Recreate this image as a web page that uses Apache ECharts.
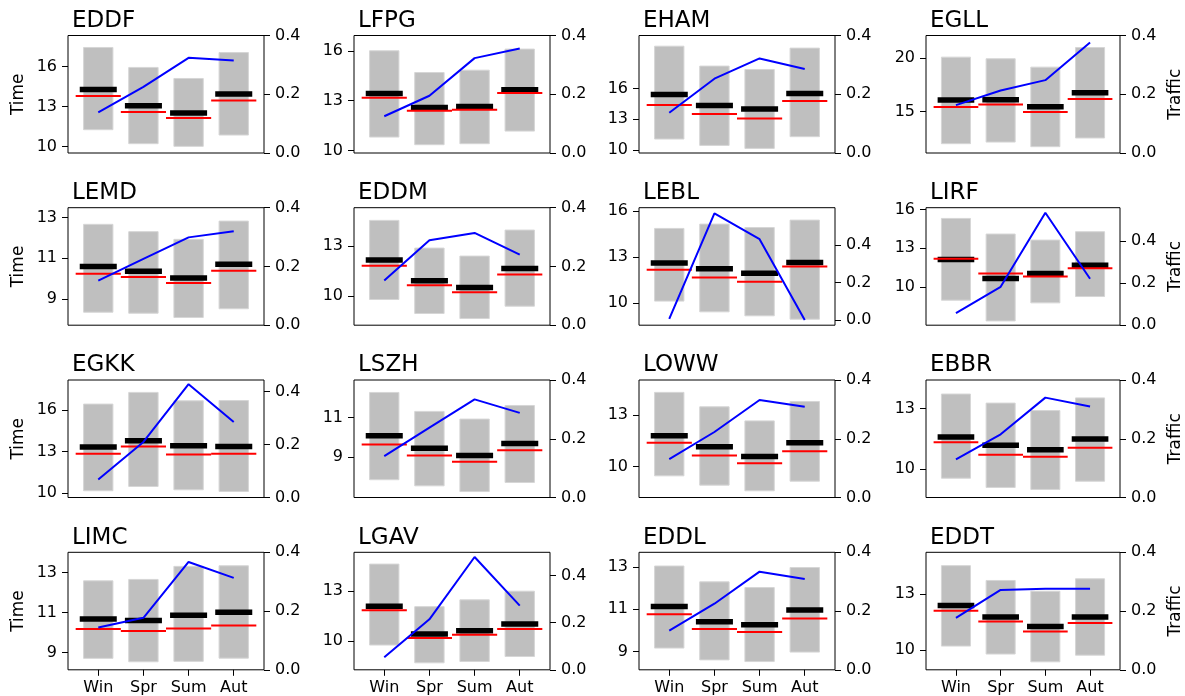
<!DOCTYPE html>
<html><head><meta charset="utf-8">
<script src="https://cdn.jsdelivr.net/npm/echarts@6/dist/echarts.min.js"></script>
<style>html,body{margin:0;padding:0;background:#fff}#chart{width:1185px;height:696px}</style>
</head><body><div id="chart"></div>
<script>
const seasons = ['Win', 'Spr', 'Sum', 'Aut'];
const airports = ['EDDF','LFPG','EHAM','EGLL','LEMD','EDDM','LEBL','LIRF','EGKK','LSZH','LOWW','EBBR','LIMC','LGAV','EDDL','EDDT'];

// grey box bottom (per airport, per season)
const timeLow = [
  [11.25, 10.20, 10.00, 10.85], [10.80, 10.34, 10.40, 11.16], [11.07, 10.45, 10.16, 11.30], [12.02, 12.17, 11.74, 12.55],
  [8.34, 8.29, 8.08, 8.51],     [9.80, 8.96, 8.66, 9.40],     [10.11, 9.41, 9.15, 8.93],    [8.97, 7.36, 8.76, 9.25],
  [10.15, 10.46, 10.22, 10.10], [7.85, 7.54, 7.25, 7.71],     [9.45, 8.91, 8.58, 9.14],     [9.53, 9.07, 8.97, 9.38],
  [8.72, 8.55, 8.57, 8.73],     [9.76, 8.69, 8.77, 9.07],     [9.16, 8.60, 8.52, 8.97],     [10.20, 9.77, 9.35, 9.71]
];
// grey box top
const timeHigh = [
  [17.43, 15.93, 15.10, 17.05], [16.00, 14.69, 14.83, 16.10], [20.12, 18.18, 17.85, 19.93], [20.09, 19.94, 19.16, 20.99],
  [12.67, 12.31, 11.93, 12.83], [14.54, 12.88, 12.40, 13.96], [14.85, 15.13, 14.91, 15.39], [15.30, 14.09, 13.62, 14.27],
  [16.44, 17.29, 16.68, 16.70], [12.27, 11.31, 10.92, 11.61], [14.31, 13.47, 12.65, 13.78], [13.72, 13.27, 12.90, 13.53],
  [12.58, 12.65, 13.30, 13.33], [14.63, 12.07, 12.48, 13.00], [13.05, 12.30, 12.03, 12.98], [14.54, 13.74, 13.16, 13.83]
];
// black thick bar
const timeMean = [
  [14.28, 13.05, 12.50, 13.93], [13.43, 12.58, 12.64, 13.65], [15.42, 14.34, 13.99, 15.51], [16.09, 16.12, 15.47, 16.77],
  [10.59, 10.36, 10.03, 10.70], [12.16, 10.92, 10.52, 11.66], [12.59, 12.22, 11.93, 12.63], [12.12, 10.65, 11.03, 11.68],
  [13.32, 13.78, 13.41, 13.36], [10.08, 9.44, 9.08, 9.68],    [11.79, 11.15, 10.58, 11.38], [11.58, 11.17, 10.95, 11.48],
  [10.68, 10.60, 10.87, 11.02], [12.09, 10.42, 10.62, 11.03], [11.13, 10.41, 10.27, 10.97], [12.39, 11.77, 11.25, 11.77]
];
// red thin line
const timeMedian = [
  [13.78, 12.58, 12.13, 13.45], [13.17, 12.38, 12.44, 13.45], [14.38, 13.50, 13.07, 14.77], [15.43, 15.68, 14.97, 16.18],
  [10.24, 10.08, 9.78, 10.38],  [11.82, 10.66, 10.24, 11.30], [12.15, 11.65, 11.37, 12.37], [12.17, 11.03, 10.80, 11.45],
  [12.83, 13.36, 12.78, 12.83], [9.63, 9.08, 8.76, 9.34],     [11.38, 10.64, 10.18, 10.88], [11.32, 10.70, 10.60, 11.05],
  [10.18, 10.08, 10.20, 10.35], [11.85, 10.18, 10.38, 10.72], [10.76, 10.06, 9.92, 10.56],  [12.10, 11.52, 10.98, 11.45]
];
// blue line (right axis)
const traffic = [
  [0.138, 0.225, 0.324, 0.315], [0.125, 0.195, 0.323, 0.356], [0.137, 0.253, 0.322, 0.286], [0.163, 0.213, 0.248, 0.376],
  [0.152, 0.226, 0.299, 0.320], [0.152, 0.289, 0.314, 0.240], [0.007, 0.567, 0.430, 0.002], [0.057, 0.182, 0.533, 0.220],
  [0.068, 0.210, 0.428, 0.285], [0.141, 0.238, 0.334, 0.288], [0.131, 0.223, 0.332, 0.309], [0.130, 0.215, 0.340, 0.310],
  [0.144, 0.177, 0.367, 0.313], [0.053, 0.214, 0.478, 0.272], [0.133, 0.225, 0.334, 0.309], [0.177, 0.272, 0.276, 0.276]
];
// left axis ranges and tick labels
const timeMin = [9.50, 9.84, 9.71, 11.15, 7.70, 8.26, 8.54, 7.03, 9.66, 6.95, 8.19, 8.57, 8.15, 8.27, 8.13, 8.92];
const timeMax = [18.33, 16.92, 21.16, 22.11, 13.49, 15.30, 16.20, 16.13, 18.19, 12.90, 15.03, 14.42, 14.00, 15.34, 13.70, 15.26];
const timeTicks = [
  [10, 13, 16], [10, 13, 16], [10, 13, 16], [15, 20],
  [9, 11, 13],  [10, 13],     [10, 13, 16], [10, 13, 16],
  [10, 13, 16], [9, 11],      [10, 13],     [10, 13],
  [9, 11, 13],  [10, 13],     [9, 11, 13],  [10, 13]
];
// right axis ranges and tick labels
const trafficMin = [0, 0, 0, 0, 0, 0, -0.026, 0, 0, 0, 0, 0, 0, 0, 0, 0];
const trafficMax = [0.4, 0.4, 0.4, 0.4, 0.4, 0.4, 0.597, 0.557, 0.444, 0.4, 0.4, 0.4, 0.4, 0.498, 0.4, 0.4];
const trafficTicks = [0.0, 0.2, 0.4];

const FONT = 'DejaVu Sans';
const colLeft = [68, 354, 639, 926];
const rowTop = [35.5, 207.7, 380, 552.3];
const W = 196, H = 117.5;

const grids = [], xAxes = [], yAxes = [], series = [], titles = [];

function boxItem(params, api) {
  const x = api.value(0), lo = api.value(1), hi = api.value(2);
  const p1 = api.coord([x - 0.325, hi]);
  const p2 = api.coord([x + 0.325, lo]);
  return { type: 'rect', shape: { x: p1[0], y: p1[1], width: p2[0] - p1[0], height: p2[1] - p1[1] },
           style: { fill: '#bfbfbf', stroke: '#d6d6d6', lineWidth: 1 } };
}
function hLine(half, color, width) {
  return function (params, api) {
    const x = api.value(0), v = api.value(1);
    const a = api.coord([x - half, v]), b = api.coord([x + half, v]);
    return { type: 'line', shape: { x1: a[0], y1: a[1], x2: b[0], y2: b[1] },
             style: { stroke: color, lineWidth: width } };
  };
}

airports.forEach((name, i) => {
  const r = Math.floor(i / 4), c = i % 4;
  grids.push({ left: colLeft[c], top: rowTop[r], width: W, height: H, show: true,
               borderColor: '#000', borderWidth: 1, backgroundColor: 'transparent', containLabel: false });
  titles.push({ text: name, left: colLeft[c] - 1, top: rowTop[r] - 31,
                textStyle: { fontFamily: FONT, fontSize: 23, fontWeight: 'normal', color: '#000' } });
  const bottom = r === 3;
  xAxes.push({ type: 'value', gridIndex: i, min: -0.67, max: 3.67, position: 'bottom',
    axisLine: { show: false, onZero: false }, splitLine: { show: false },
    axisTick: { show: bottom, length: 6, lineStyle: { color: '#000' }, customValues: [0, 1, 2, 3] },
    axisLabel: { show: bottom, margin: 10, fontFamily: FONT, fontSize: 16, color: '#000',
                 customValues: [0, 1, 2, 3], formatter: v => seasons[Math.round(v)] } });
  yAxes.push({ type: 'value', gridIndex: i, position: 'left', min: timeMin[i], max: timeMax[i],
    name: c === 0 ? 'Time' : '', nameLocation: 'middle', nameRotate: 90, nameGap: 41,
    nameTextStyle: { fontFamily: FONT, fontSize: 17, color: '#000' },
    axisLine: { show: false, onZero: false }, splitLine: { show: false },
    axisTick: { show: true, length: 6, lineStyle: { color: '#000' }, customValues: timeTicks[i] },
    axisLabel: { margin: 11, fontFamily: FONT, fontSize: 16, color: '#000', customValues: timeTicks[i] } });
  yAxes.push({ type: 'value', gridIndex: i, position: 'right', min: trafficMin[i], max: trafficMax[i],
    name: c === 3 ? 'Traffic' : '', nameLocation: 'middle', nameRotate: 90, nameGap: 47,
    nameTextStyle: { fontFamily: FONT, fontSize: 17, color: '#000' },
    axisLine: { show: false, onZero: false }, splitLine: { show: false },
    axisTick: { show: true, length: 6, lineStyle: { color: '#000' }, customValues: trafficTicks },
    axisLabel: { margin: 11, fontFamily: FONT, fontSize: 16, color: '#000', customValues: trafficTicks,
                 formatter: v => v.toFixed(1) } });
  const lyi = 2 * i, ryi = 2 * i + 1;
  series.push({ type: 'custom', xAxisIndex: i, yAxisIndex: lyi, renderItem: boxItem, z: 1,
    data: seasons.map((s, k) => [k, timeLow[i][k], timeHigh[i][k]]) });
  series.push({ type: 'custom', xAxisIndex: i, yAxisIndex: lyi, renderItem: hLine(0.41, '#000', 5.5), z: 2,
    data: seasons.map((s, k) => [k, timeMean[i][k]]) });
  series.push({ type: 'custom', xAxisIndex: i, yAxisIndex: lyi, renderItem: hLine(0.5, '#ff0000', 2), z: 3,
    data: seasons.map((s, k) => [k, timeMedian[i][k]]) });
  series.push({ type: 'line', xAxisIndex: i, yAxisIndex: ryi, z: 4, symbol: 'none',
    lineStyle: { color: '#0000ff', width: 2 },
    data: seasons.map((s, k) => [k, traffic[i][k]]) });
});

const chart = echarts.init(document.getElementById('chart'), null, { renderer: 'canvas' });
chart.setOption({ animation: false, backgroundColor: '#fff', title: titles, grid: grids,
  xAxis: xAxes, yAxis: yAxes, series: series });
</script></body></html>
